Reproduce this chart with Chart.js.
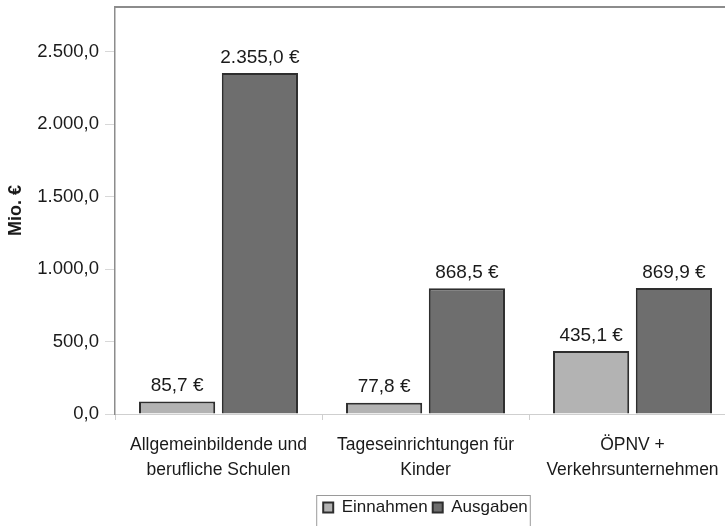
<!DOCTYPE html>
<html>
<head>
<meta charset="utf-8">
<script src="https://cdn.jsdelivr.net/npm/chart.js@4.4.1/dist/chart.umd.min.js"></script>
<style>
  body { margin: 0; background: #fff; overflow: hidden; }
  #wrap { width: 740px; height: 526px; }
</style>
</head>
<body>
<div id="wrap"><canvas id="chart" width="740" height="526"></canvas></div>
<script>
  const categories = [
    ['Allgemeinbildende und', 'berufliche Schulen'],
    ['Tageseinrichtungen für', 'Kinder'],
    ['ÖPNV +', 'Verkehrsunternehmen']
  ];
  const einnahmen = [85.7, 77.8, 435.1];
  const ausgaben = [2355.0, 868.5, 869.9];
  const seriesNames = ['Einnahmen', 'Ausgaben'];
  const yTicks = [0, 500, 1000, 1500, 2000, 2500];

  const FONT = "'Liberation Sans', Arial, sans-serif";

  function fmtDe(v) {
    const parts = v.toFixed(1).split('.');
    return parts[0].replace(/\B(?=(\d{3})+(?!\d))/g, '.') + ',' + parts[1];
  }

  // value labels above the bars
  const valueLabels = {
    id: 'valueLabels',
    afterDatasetsDraw(chart) {
      const ctx = chart.ctx;
      ctx.save();
      ctx.font = '19px ' + FONT;
      ctx.fillStyle = '#1a1a1a';
      ctx.textAlign = 'center';
      ctx.textBaseline = 'bottom';
      chart.data.datasets.forEach((ds, i) => {
        chart.getDatasetMeta(i).data.forEach((bar, j) => {
          ctx.fillText(fmtDe(ds.data[j]) + ' €', bar.x, bar.y - 6);
        });
      });
      ctx.restore();
    }
  };

  // top frame line of the plot and border round the legend
  const frame = {
    id: 'frame',
    afterDraw(chart) {
      const ctx = chart.ctx;
      const a = chart.chartArea;
      ctx.save();
      ctx.strokeStyle = '#8c8c8c';
      ctx.lineWidth = 2;
      ctx.beginPath();
      ctx.moveTo(a.left, a.top);
      ctx.lineTo(a.right, a.top);
      ctx.stroke();

      const lg = chart.legend;
      const hb = lg.legendHitBoxes;
      if (hb && hb.length) {
        const x0 = hb[0].left - 7;
        const last = hb[hb.length - 1];
        const x1 = last.left + last.width + 2;
        ctx.strokeStyle = '#9a9a9a';
        ctx.lineWidth = 1;
        ctx.strokeRect(x0 + 0.5, lg.top + 1.5, x1 - x0, 40);
      }
      ctx.restore();
    }
  };

  new Chart(document.getElementById('chart'), {
    type: 'bar',
    data: {
      labels: categories,
      datasets: [
        {
          label: seriesNames[0],
          data: einnahmen,
          backgroundColor: '#b3b3b3',
          borderColor: '#2e2e2e',
          borderWidth: 2
        },
        {
          label: seriesNames[1],
          data: ausgaben,
          backgroundColor: '#6e6e6e',
          borderColor: '#2e2e2e',
          borderWidth: 2
        }
      ]
    },
    options: {
      responsive: false,
      animation: false,
      layout: { padding: { top: 7, right: 4, left: 0, bottom: 0 } },
      datasets: {
        bar: { categoryPercentage: 0.8, barPercentage: 0.92 }
      },
      scales: {
        x: {
          grid: {
            display: true,
            drawOnChartArea: false,
            offset: true,
            color: '#cfcfcf',
            tickLength: 6
          },
          border: { color: '#cfcfcf', width: 1 },
          ticks: {
            color: '#1a1a1a',
            font: { family: FONT, size: 17.5, lineHeight: 1.4 },
            padding: 13,
            maxRotation: 0,
            autoSkip: false
          },
          afterFit(scale) { scale.height = 80; }
        },
        y: {
          min: 0,
          max: 2810,
          grid: {
            drawOnChartArea: false,
            color: '#d8d8d8',
            tickLength: 10
          },
          border: { color: '#8c8c8c', width: 1.5 },
          ticks: {
            color: '#1a1a1a',
            font: { family: FONT, size: 18.5 },
            padding: 6,
            autoSkip: false,
            callback: v => fmtDe(v)
          },
          afterBuildTicks(scale) {
            scale.ticks = yTicks.map(v => ({ value: v }));
          },
          afterFit(scale) {
            scale.width = 115;
            scale.paddingTop = 0;
            scale.paddingBottom = 0;
          },
          title: {
            display: true,
            text: 'Mio. €',
            color: '#1a1a1a',
            font: { family: FONT, size: 18, weight: 'bold' },
            padding: { top: 5, bottom: 0 }
          }
        }
      },
      plugins: {
        legend: {
          position: 'bottom',
          fullSize: false,
          labels: {
            boxWidth: 10,
            boxHeight: 10,
            padding: 5,
            color: '#1a1a1a',
            font: { family: FONT, size: 17 }
          }
        },
        tooltip: { enabled: false }
      }
    },
    plugins: [valueLabels, frame]
  });
</script>
</body>
</html>
